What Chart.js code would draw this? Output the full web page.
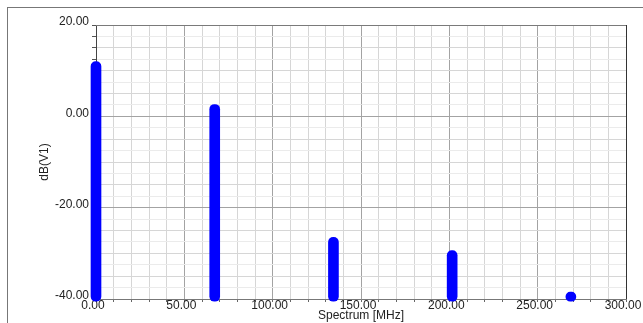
<!DOCTYPE html>
<html>
<head>
<meta charset="utf-8">
<script src="https://cdn.jsdelivr.net/npm/chart.js@4/dist/chart.umd.min.js"></script>
<style>
  html, body { margin: 0; padding: 0; background: #fff; }
  #wrap { position: relative; width: 643px; height: 323px; overflow: hidden; }
  #frame { position: absolute; left: 7px; top: 7px; width: 700px; height: 400px;
           border-top: 1px solid #777; border-left: 1px solid #777; }
  #chart { position: absolute; left: 0; top: 0; }
</style>
</head>
<body>
<div id="wrap">
  <div id="frame"></div>
  <canvas id="chart" width="643" height="323"></canvas>
</div>
<script>
/* ================================
   DATA
================================ */
const freqs = [0, 67.2, 134.4, 201.6, 268.8];     // MHz
const levels = [12.0, 2.6, -26.5, -29.4, -38.5];  // dB(V1)
const floor = -40.5;

const xTicks = [0, 50, 100, 150, 200, 250, 300];
const yTicks = [20, 0, -20, -40];

/* ================================
   FRAME PLUGIN (top / right edge)
================================ */
const plotBox = {
  id: "plotBox",
  afterDraw(chart) {
    const { ctx, chartArea: a } = chart;
    ctx.save();
    ctx.lineWidth = 1;
    ctx.strokeStyle = "#7a7a7a";
    ctx.beginPath();
    ctx.moveTo(a.left, a.top + 0.5);
    ctx.lineTo(a.right, a.top + 0.5);
    ctx.stroke();
    ctx.strokeStyle = "#333";
    ctx.beginPath();
    ctx.moveTo(a.right + 0.5, a.top);
    ctx.lineTo(a.right + 0.5, a.bottom);
    ctx.stroke();
    ctx.restore();
  }
};

const font = { family: "'Liberation Sans', Arial, sans-serif", size: 12 };

new Chart(document.getElementById("chart"), {
  type: "bar",
  data: {
    datasets: [{
      data: freqs.map((f, i) => ({ x: f, y: [floor, levels[i]] })),
      backgroundColor: "#0000ff",
      borderWidth: 0,
      borderRadius: 5,
      borderSkipped: false,
      barThickness: 10,
      clip: false
    }]
  },
  options: {
    responsive: false,
    animation: false,
    layout: { padding: { left: 0, top: 25, right: 17, bottom: 0 } },
    plugins: { legend: { display: false }, tooltip: { enabled: false } },
    scales: {
      x: {
        type: "linear",
        min: 0, max: 300,
        offset: false,
        grid: {
          offset: false,
          color: c => xTicks.includes(c.tick.value) ? "#a3a3a3" : "#d6d6d6",
          tickColor: "#666",
          tickLength: 3
        },
        border: { color: "#777" },
        ticks: {
          stepSize: 10,
          autoSkip: false,
          maxRotation: 0,
          padding: -4,
          labelOffset: -3,
          color: "#222",
          font,
          callback: v => xTicks.includes(v) ? v.toFixed(2) : ""
        },
        title: { display: true, text: "Spectrum [MHz]", color: "#222", font, padding: 0 },
        afterFit(s) { s.height = 24; s.paddingLeft = 0; s.paddingRight = 0; }
      },
      y: {
        min: -40, max: 20,
        grid: {
          color: c => {
            const v = c.tick.value;
            if (yTicks.includes(v)) return "#a3a3a3";
            return v % 5 === 0 ? "#d6d6d6" : "#ebebeb";
          },
          tickColor: "#555",
          tickLength: 4
        },
        border: { color: "#444" },
        ticks: {
          stepSize: 2.5,
          autoSkip: false,
          padding: 3,
          labelOffset: -3,
          color: "#222",
          font,
          callback: v => yTicks.includes(v) ? v.toFixed(2) : ""
        },
        title: { display: true, text: "dB(V1)", color: "#222", font, padding: { top: 37, bottom: 0 } },
        afterFit(s) { s.width = 96; s.paddingTop = 0; s.paddingBottom = 0; }
      }
    }
  },
  plugins: [plotBox]
});
</script>
</body>
</html>
